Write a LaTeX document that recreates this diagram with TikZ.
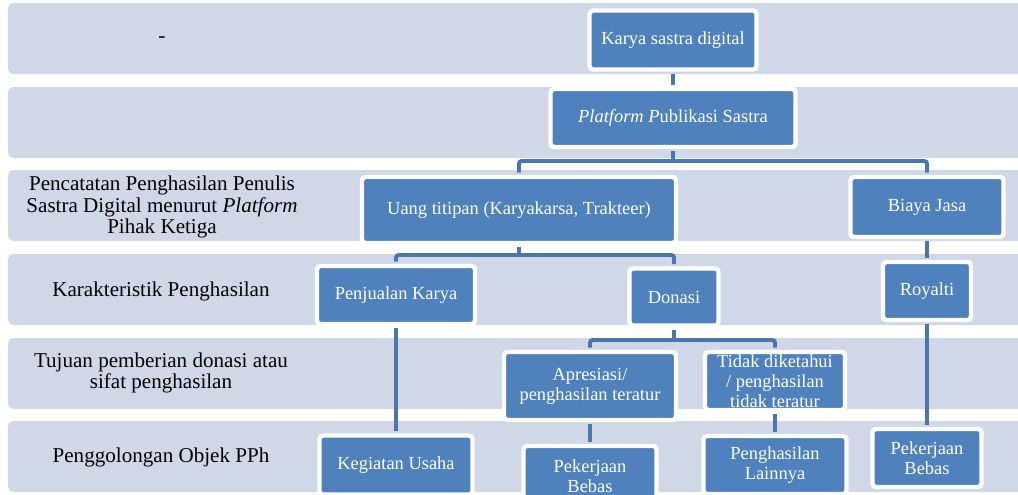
\documentclass[tikz,border=0pt]{standalone}
\usepackage{fontspec}
\setmainfont{Liberation Serif}
\definecolor{bandfill}{HTML}{D0D8E8}
\definecolor{boxblue}{HTML}{4F81BD}
\definecolor{linkblue}{HTML}{4A76AE}

\begin{document}
\begin{tikzpicture}[x=0.02cm,y=-0.02cm,
  band/.style={fill=bandfill,rounded corners=3pt},
  main node/.style={rectangle,rounded corners=2pt,fill=boxblue,draw=white,line width=2.5pt,text=white,
    font=\fontsize{10.5}{11.3}\selectfont,align=center,inner sep=1pt},
  side node/.style={font=\fontsize{12}{12.4}\selectfont,align=center},
  link/.style={draw=linkblue,line width=2.2pt,rounded corners=1.5pt,shorten <=1.2pt,shorten >=1.2pt}]

  \useasboundingbox (0,0) rectangle (1018,494);
  \clip (0,0) rectangle (1018,494);

  % rows
  \foreach \y in {3,87,170,254,338,421}
    \fill[band] (8,\y) rectangle (1030,\y+71);

  % row labels
  \node[side node] (l1) at (162,40) {-};
  \node[side node] (l3) at (162,207) {Pencatatan Penghasilan Penulis\\Sastra Digital menurut \textit{Platform}\\Pihak Ketiga};
  \node[side node] (l4) at (161,291) {Karakteristik Penghasilan};
  \node[side node] (l5) at (161,373) {Tujuan pemberian donasi atau\\sifat penghasilan};
  \node[side node] (l6) at (161,457) {Penggolongan Objek PPh};

  % boxes
  \node[main node,minimum width=3.34cm,minimum height=1.18cm] (kar) at (673,40) {Karya sastra digital};
  \node[main node,minimum width=4.9cm,minimum height=1.16cm] (plat) at (673,118) {\textit{Platform P}ublikasi Sastra};
  \node[main node,minimum width=6.28cm,minimum height=1.32cm] (uang) at (519,210) {Uang titipan (Karyakarsa, Trakteer)};
  \node[main node,minimum width=3.06cm,minimum height=1.2cm] (biaya) at (927,207) {Biaya Jasa};
  \node[main node,minimum width=3.16cm,minimum height=1.16cm] (penj) at (396,295) {Penjualan Karya};
  \node[main node,minimum width=1.78cm,minimum height=1.14cm] (don) at (674,297) {Donasi};
  \node[main node,minimum width=1.76cm,minimum height=1.16cm] (roy) at (927,291) {Royalti};
  \node[main node,minimum width=3.44cm,minimum height=1.36cm] (apr) at (590,386) {Apresiasi/\\penghasilan teratur};
  \node[main node,minimum width=2.8cm,minimum height=1.16cm,inner sep=0pt] (tdk) at (775,381) {Tidak diketahui\\/ penghasilan\\tidak teratur};
  \node[main node,minimum width=3.06cm,minimum height=1.18cm] (keg) at (396,465) {Kegiatan Usaha};
  \node[main node,minimum width=2.66cm,minimum height=1.2cm] (pkb1) at (590,476) {Pekerjaan\\Bebas};
  \node[main node,minimum width=2.86cm,minimum height=1.16cm] (lain) at (775,465) {Penghasilan\\Lainnya};
  \node[main node,minimum width=2.18cm,minimum height=1.16cm] (pkb2) at (927,458) {Pekerjaan\\Bebas};

  % junctions
  \coordinate (j1) at (673,161);
  \coordinate (j2) at (519,255);
  \coordinate (j3) at (674,340);

  % connectors
  \draw[link] (kar) -- (plat);
  \draw[link] (plat) -- (j1);
  \draw[link] (uang) |- (j1) -| (biaya);
  \draw[link] (uang) -- (j2);
  \draw[link] (penj) |- (j2) -| (don);
  \draw[link] (don) -- (j3);
  \draw[link] (apr) |- (j3) -| (tdk);
  \draw[link] (biaya) -- (roy);
  \draw[link] (roy) -- (pkb2);
  \draw[link] (penj) -- (keg);
  \draw[link] (apr) -- (pkb1);
  \draw[link] (tdk) -- (lain);
\end{tikzpicture}
\end{document}
